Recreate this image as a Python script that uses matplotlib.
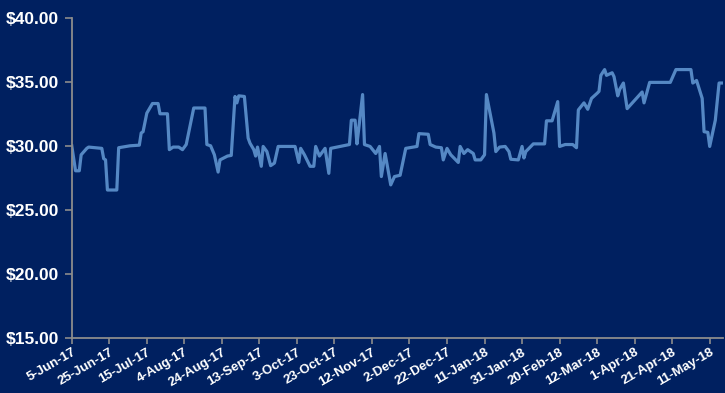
import numpy as np
import pandas as pd
import matplotlib
matplotlib.use("Agg")
import matplotlib.pyplot as plt
import matplotlib.dates as mdates

# days since 5-Jun-17
days = [0, 2, 4, 5, 8, 9, 16, 17, 18, 19, 24, 25, 27, 31, 36, 37, 38, 40, 43, 46,
        47, 51, 52, 54, 57, 59, 61, 65, 71, 72, 74, 76, 78, 79, 83, 85, 87, 88, 89, 92,
        93, 94, 95, 97, 98, 99, 101, 102, 104, 106, 108, 110, 119, 121, 122, 124, 127, 129, 130, 132,
        135, 137, 138, 143, 148, 149, 151, 152, 153, 155, 156, 159, 162, 164, 165, 167, 170, 172, 175, 178,
        184, 185, 190, 191, 194, 197, 198, 200, 202, 206, 207, 209, 211, 214, 215, 218, 220, 221, 225, 226,
        228, 231, 233, 234, 238, 240, 241, 242, 246, 252, 253, 256, 259, 260, 263, 267, 269, 270, 273, 275,
        277, 280, 281, 282, 284, 285, 288, 289, 291, 292, 294, 296, 304, 305, 308, 319, 322, 330, 331, 333,
        336, 337, 339, 340, 343, 345, 347]
price = [30.0, 28.05, 28.05, 29.3, 29.8, 29.9, 29.8, 29.0, 28.9, 26.55, 26.55, 29.85, 29.9, 30.0, 30.05, 31.0, 31.1, 32.55, 33.3, 33.3,
         32.5, 32.5, 29.7, 29.9, 29.9, 29.7, 30.1, 32.95, 32.95, 30.1, 30.0, 29.3, 27.95, 28.9, 29.2, 29.25, 33.85, 33.35, 33.9, 33.85,
         32.2, 30.6, 30.2, 29.7, 29.2, 29.9, 28.4, 29.95, 29.55, 28.45, 28.65, 29.95, 29.95, 28.7, 29.8, 29.3, 28.4, 28.4, 29.95, 29.2,
         29.8, 27.85, 29.8, 29.95, 30.1, 32.0, 32.0, 30.15, 31.4, 34.0, 30.1, 29.95, 29.4, 29.95, 27.6, 29.4, 26.95, 27.6, 27.7, 29.8,
         29.95, 30.95, 30.9, 30.1, 29.9, 29.85, 28.9, 29.8, 29.3, 28.7, 29.95, 29.4, 29.7, 29.4, 28.9, 28.9, 29.3, 34.0, 31.0, 29.55,
         29.9, 29.95, 29.55, 28.95, 28.9, 29.95, 29.05, 29.55, 30.15, 30.15, 31.95, 31.95, 33.45, 29.95, 30.1, 30.1, 29.85, 32.8, 33.35, 32.85,
         33.7, 34.1, 34.25, 35.5, 35.95, 35.5, 35.7, 35.4, 33.9, 34.4, 34.9, 32.9, 34.2, 33.35, 34.95, 34.95, 35.95, 35.95, 34.9, 35.1,
         33.7, 31.1, 31.05, 29.95, 32.0, 34.9, 34.9]

start = pd.Timestamp("2017-06-05")
dates = start + pd.to_timedelta(days, unit="D")
tick_dates = pd.date_range("2017-06-05", "2018-05-11", freq="20D")
yticks = [15, 20, 25, 30, 35, 40]

navy = "#002060"
fig = plt.figure(figsize=(7.25, 3.93), dpi=100, facecolor=navy)
ax = fig.add_axes([0.099, 0.14, 0.898, 0.815], facecolor=navy)
ax.plot(dates, price, color="#5588c4", lw=2.3, solid_joinstyle="round")

ax.set_ylim(15, 40)
ax.set_yticks(yticks)
ax.set_yticklabels([f"${v:.2f}" for v in yticks])
ax.set_xlim(start, pd.Timestamp("2018-05-18"))
ax.set_xticks(tick_dates)
ax.xaxis.set_major_formatter(mdates.DateFormatter("%-d-%b-%y"))

for s in ["top", "right"]:
    ax.spines[s].set_visible(False)
for s in ["left", "bottom"]:
    ax.spines[s].set_color("#8c8c8c")
    ax.spines[s].set_linewidth(1.3)

ax.tick_params(axis="y", colors="#8c8c8c", length=5, width=1.2, pad=4)
ax.tick_params(axis="x", colors="#8c8c8c", length=4, width=1.2, pad=2)
for lab in ax.get_yticklabels():
    lab.set_color("white")
    lab.set_fontfamily("Liberation Sans")
    lab.set_fontweight("bold")
    lab.set_fontsize(12.5)
for lab in ax.get_xticklabels():
    lab.set_color("white")
    lab.set_fontfamily("Liberation Sans")
    lab.set_fontweight("bold")
    lab.set_fontsize(9.5)
    lab.set_rotation(30)
    lab.set_ha("right")
    lab.set_rotation_mode("anchor")

fig.savefig("out.png", dpi=100, facecolor=navy)
